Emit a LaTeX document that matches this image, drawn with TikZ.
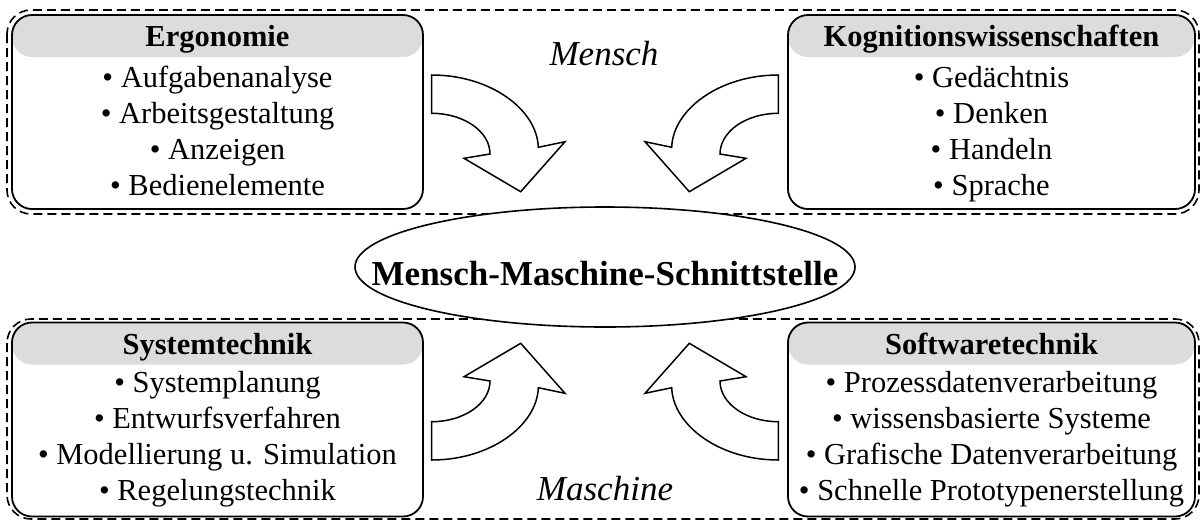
\documentclass[tikz,border=0pt]{standalone}
\usepackage{fontspec}
\setmainfont{Liberation Serif}
\usetikzlibrary{shapes.geometric}
\definecolor{hdr}{RGB}{220,220,220}
\tikzset{
  group/.style={draw, line width=1.6pt, dash pattern=on 9pt off 5pt, rounded corners=24pt},
  topic/.style={draw, line width=1.8pt, fill=white, rounded corners=20pt,
    minimum width=#1, minimum height=194pt, inner sep=0pt,
    path picture={\fill[hdr] (path picture bounding box.north west)
      rectangle ([yshift=-42pt]path picture bounding box.north east);}},
  head/.style={font=\fontsize{30.5}{36}\selectfont\bfseries, anchor=base, inner sep=0pt},
  item/.style={font=\fontsize{30.5}{36}\selectfont, anchor=base, inner sep=0pt},
  side/.style={font=\fontsize{35}{42}\selectfont\itshape, anchor=base, inner sep=0pt},
  core/.style={draw, ellipse, fill=white, line width=1.6pt, minimum width=500pt, minimum height=120pt},
  blockarrow/.style={draw, fill=white, line width=1.5pt, line join=miter},
}
% curved block arrow, drawn relative to the centre of the interface ellipse
\newcommand{\mmsArrow}{%
  \draw[blockarrow] (-173.3,-192.5) .. controls (-114.5,-192.5) and (-68,-158) .. (-66.7,-120.2)
    -- (-40,-125.8) -- (-84.3,-75.8) -- (-141,-109.2) -- (-115,-113.5)
    .. controls (-115,-136) and (-141.1,-154.2) .. (-173.3,-154.2) -- cycle;}
\begin{document}
\begin{tikzpicture}[x=1pt, y=-1pt]
\useasboundingbox (0,0) rectangle (1201,520);

% dashed group frames
\draw[group] (7,10) rectangle (1199,214);
\draw[group] (7,319) rectangle (1199,519);

% topic boxes
\node[topic=411pt] (ergo) at (217.5,112) {};
\node[topic=407pt] (kogn) at (991.5,112) {};
\node[topic=411pt] (syst) at (217.5,419.5) {};
\node[topic=407pt] (soft) at (991.5,419.5) {};

% Ergonomie
\node[head] (ergoH) at (217.5,46) {Ergonomie};
\node[item] (ergo1) at (217.5,87)  {\textbullet\ Aufgabenanalyse};
\node[item] (ergo2) at (217.5,123) {\textbullet\ Arbeitsgestaltung};
\node[item] (ergo3) at (217.5,159) {\textbullet\ Anzeigen};
\node[item] (ergo4) at (217.5,195) {\textbullet\ Bedienelemente};

% Kognitionswissenschaften
\node[head] (kognH) at (991.5,46) {Kognitionswissenschaften};
\node[item] (kogn1) at (991.5,87)  {\textbullet\ Gedächtnis};
\node[item] (kogn2) at (991.5,123) {\textbullet\ Denken};
\node[item] (kogn3) at (991.5,159) {\textbullet\ Handeln};
\node[item] (kogn4) at (991.5,195) {\textbullet\ Sprache};

% Systemtechnik
\node[head] (systH) at (217.5,354) {Systemtechnik};
\node[item] (syst1) at (217.5,392) {\textbullet\ Systemplanung};
\node[item] (syst2) at (217.5,428) {\textbullet\ Entwurfsverfahren};
\node[item] (syst3) at (217.5,464) {\textbullet\ Modellierung u. Simulation};
\node[item] (syst4) at (217.5,500) {\textbullet\ Regelungstechnik};

% Softwaretechnik
\node[head] (softH) at (991.5,354) {Softwaretechnik};
\node[item] (soft1) at (991.5,392) {\textbullet\ Prozessdatenverarbeitung};
\node[item] (soft2) at (991.5,428) {\textbullet\ wissensbasierte Systeme};
\node[item] (soft3) at (991.5,464) {\textbullet\ Grafische Datenverarbeitung};
\node[item] (soft4) at (991.5,500) {\textbullet\ Schnelle Prototypenerstellung};

% central interface
\node[core] (mms) at (605,267) {};
\node[font=\fontsize{35}{42}\selectfont\bfseries, anchor=base, inner sep=0pt] (mmsL) at (605,285) {Mensch-Maschine-Schnittstelle};

\node[side] (mensch) at (604,65) {Mensch};
\node[side] (maschine) at (605,500) {Maschine};

% curved arrows towards the interface
\begin{scope}[shift={(605,267.5)}]
  \mmsArrow
\end{scope}
\begin{scope}[shift={(605,267.5)}, xscale=-1]
  \mmsArrow
\end{scope}
\begin{scope}[shift={(605,267.5)}, yscale=-1]
  \mmsArrow
\end{scope}
\begin{scope}[shift={(605,267.5)}, xscale=-1, yscale=-1]
  \mmsArrow
\end{scope}
\end{tikzpicture}
\end{document}
